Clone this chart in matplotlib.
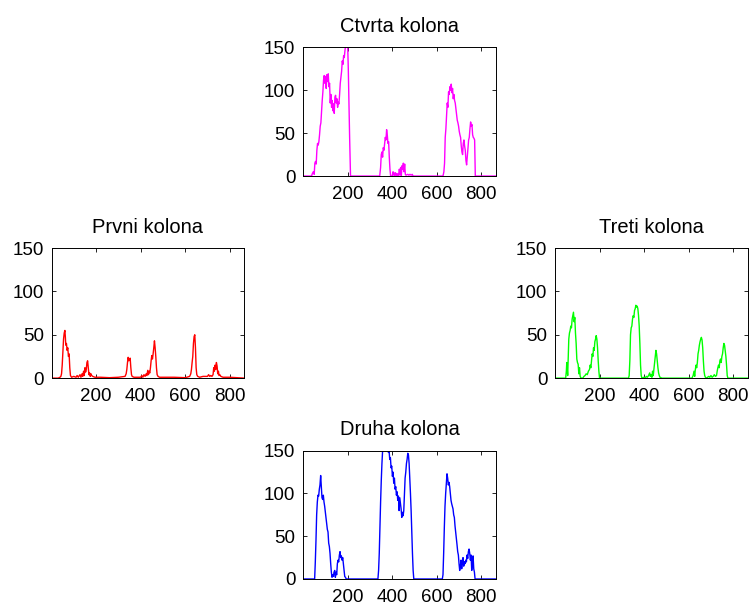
import matplotlib
matplotlib.use("Agg")
import matplotlib.pyplot as plt

plt.rcParams["font.family"] = ["Liberation Sans", "DejaVu Sans"]

X_MAX = 866
X_TICKS = [200, 400, 600, 800]
Y_TICKS = [0, 50, 100, 150]

# Ctvrta kolona (magenta)
ctvrta_x = [0, 38, 42, 46, 50, 53, 56, 59, 62, 65, 68, 71, 74, 77, 80, 83, 86, 89, 92, 95,
            98, 101, 104, 107, 110, 113, 116, 119, 122, 125, 128, 131, 134, 137, 140, 143,
            146, 149, 152, 155, 158, 161, 164, 167, 170, 173, 176, 179, 182, 185, 188, 191,
            194, 197, 200, 203, 206, 209, 213,
            344, 348, 351, 354, 357, 360, 363, 366, 369, 372, 375, 378, 381, 384, 387, 390,
            393, 400, 404, 407, 410, 413, 416, 419, 422, 426, 429, 432, 435, 438, 441, 444,
            447, 450, 453, 456, 459, 462, 470, 475, 480, 485, 490, 494,
            628, 632, 635, 638, 641, 644, 647, 650, 653, 656, 659, 662, 665, 668, 671, 674,
            677, 680, 683, 686, 689, 692, 695, 698, 701, 704, 707, 710, 713, 716, 719, 722,
            725, 728, 731, 734, 737, 740, 743, 746, 749, 752, 755, 758, 761, 764, 767, 770,
            773, 866]
ctvrta_y = [0, 0, 3, 5, 2, 15, 17, 14, 30, 38, 36, 40, 48, 58, 62, 75, 88, 98, 112, 117,
            108, 116, 102, 118, 110, 119, 104, 108, 85, 95, 80, 88, 76, 84, 73, 92,
            94, 85, 90, 80, 86, 84, 95, 108, 115, 122, 134, 130, 140, 138, 146, 152,
            155, 152, 155, 125, 85, 45, 0,
            0, 10, 25, 28, 22, 33, 30, 38, 45, 42, 54, 48, 38, 40, 22, 8,
            0, 0, 5, 2, 0, 4, 1, 3, 0, 3, 0, 8, 2, 10, 0, 12,
            8, 15, 5, 14, 2, 1, 2, 1, 2, 1, 2, 0,
            0, 5, 15, 45, 55, 70, 85, 80, 98, 95, 104, 100, 107, 97, 102, 90,
            95, 88, 85, 78, 72, 65, 62, 58, 52, 48, 45, 35, 28, 25, 38, 42,
            35, 30, 18, 13, 22, 32, 42, 45, 55, 63, 58, 60, 48, 45, 44, 42,
            0, 0]

# Prvni kolona (red)
prvni_x = [0, 30, 38, 42, 45, 48, 51, 54, 57, 60, 62, 64, 67, 70, 73, 76, 79, 82, 85, 90,
           100, 110, 115, 120, 128, 132, 137, 140, 144, 147, 150, 153, 156, 159, 162, 165,
           168, 171, 174, 177, 180, 185, 195, 220, 260, 300,
           330, 335, 338, 341, 344, 347, 350, 353, 356, 359, 362, 370, 400, 405, 410, 415,
           420, 425, 428, 432, 435, 438, 441, 444, 447, 450, 453, 456, 459, 462, 465, 468,
           471, 474, 478, 485, 550, 600,
           620, 625, 628, 631, 634, 637, 640, 643, 646, 649, 652, 656, 665, 680, 700, 705,
           710, 715, 720, 725, 728, 731, 734, 737, 740, 743, 746, 749, 752, 755, 760, 770,
           800, 866]
prvni_y = [0, 0, 1, 2, 5, 15, 30, 45, 52, 55, 48, 38, 40, 32, 35, 25, 28, 12, 3, 1,
           2, 1, 3, 1, 4, 1, 5, 2, 8, 3, 12, 7, 10, 18, 20, 12,
           4, 6, 2, 5, 3, 2, 1, 1, 0.5, 1,
           2, 5, 10, 18, 24, 20, 22, 23, 12, 4, 2, 1, 1, 3, 1, 4,
           2, 5, 3, 9, 4, 8, 6, 12, 20, 26, 22, 28, 35, 43, 35, 25,
           12, 4, 2, 1, 1, 0.5,
           2, 5, 10, 18, 25, 40, 48, 50, 35, 12, 4, 2, 1, 2, 2, 4,
           2, 3, 2, 4, 12, 8, 15, 10, 18, 14, 5, 8, 3, 4, 2, 1,
           1, 0]

# Treti kolona (green)
treti_x = [0, 48, 51, 53, 55, 57, 59, 62, 65, 68, 71, 74, 77, 80, 83, 86, 89, 92, 95, 98,
           101, 104, 107, 110, 113, 117, 125, 130, 135, 140, 145, 150, 155, 158, 161, 164,
           167, 170, 173, 176, 179, 182, 185, 188, 191, 194, 197, 200,
           330, 333, 336, 339, 342, 345, 348, 351, 354, 357, 360, 363, 366, 369, 372, 375,
           378, 381, 384, 387, 390, 400, 405, 410, 415, 420, 425, 428, 432, 435, 438, 441,
           444, 447, 450, 453, 456, 459, 462, 465, 468, 471, 480,
           615, 620, 624, 627, 630, 633, 636, 639, 642, 645, 648, 651, 654, 657, 660, 663,
           666, 669, 672, 675, 680, 690, 695, 700, 705, 710, 715, 720, 725, 728, 731, 734,
           737, 740, 743, 746, 749, 752, 755, 758, 761, 764, 767, 770, 773, 776, 866]
treti_y = [0, 0, 8, 18, 10, 3, 20, 45, 52, 55, 60, 58, 68, 72, 76, 65, 70, 52, 40, 22,
           18, 16, 5, 12, 2, 0, 0, 2, 3, 5, 4, 8, 10, 15, 12, 20,
           28, 25, 35, 32, 42, 45, 49, 45, 35, 20, 8, 0,
           0, 3, 20, 50, 58, 60, 68, 72, 70, 78, 80, 84, 82, 83, 80, 72,
           60, 40, 15, 3, 0, 1, 0, 2, 1, 3, 6, 2, 4, 1, 8, 3,
           10, 18, 25, 32, 28, 20, 12, 6, 3, 1, 0,
           0, 3, 8, 2, 10, 15, 12, 18, 28, 32, 38, 42, 45, 47, 44, 35,
           20, 8, 3, 1, 0, 2, 1, 3, 1, 2, 4, 2, 3, 8, 12, 15,
           12, 20, 22, 18, 25, 28, 35, 40, 38, 32, 25, 15, 3, 0, 0]

# Druha kolona (blue)
druha_x = [0, 52, 55, 58, 61, 64, 67, 70, 73, 76, 79, 82, 85, 88, 91, 94, 97, 100, 103, 106,
           109, 112, 115, 118, 121, 124, 127, 130, 133, 136, 139, 142, 145, 148, 151, 154,
           157, 160, 163, 166, 169, 172, 175, 178, 181, 184, 187, 190, 194,
           336, 339, 342, 345, 348, 351, 354, 357, 360, 380, 383, 386, 389, 392, 395, 398,
           401, 404, 407, 410, 413, 416, 419, 422, 425, 428, 431, 434, 437, 440, 443, 446,
           449, 452, 455, 458, 461, 464, 467, 470, 473, 476, 479, 482, 485, 488, 491, 494,
           497,
           625, 628, 631, 634, 637, 640, 643, 646, 649, 652, 655, 658, 661, 664, 667, 670,
           673, 676, 679, 682, 685, 688, 691, 694, 697, 700, 703, 706, 709, 712, 715, 718,
           721, 724, 727, 730, 733, 736, 739, 742, 745, 748, 751, 754, 757, 760, 763, 766,
           769, 772, 866]
druha_y = [0, 0, 20, 45, 75, 90, 98, 97, 105, 110, 121, 108, 95, 93, 98, 90, 85, 78, 72, 65,
           58, 55, 42, 38, 30, 18, 8, 2, 5, 3, 8, 10, 2, 8, 5, 18,
           22, 20, 28, 32, 25, 27, 22, 25, 18, 10, 3, 2, 0,
           0, 10, 30, 60, 90, 115, 135, 150, 158, 158, 148, 150, 140, 142, 130, 132,
           120, 125, 112, 118, 105, 108, 98, 102, 92, 97, 80, 95, 88, 82, 72, 78,
           74, 80, 100, 118, 125, 135, 140, 147, 145, 135, 118, 100, 80, 55, 30, 10,
           0,
           0, 5, 30, 60, 85, 100, 112, 123, 118, 110, 113, 108, 100, 92, 88, 85,
           82, 75, 72, 62, 55, 48, 40, 32, 28, 18, 10, 15, 22, 12, 20, 25,
           15, 20, 18, 22, 20, 28, 24, 32, 35, 30, 22, 28, 10, 20, 27, 12,
           8, 0, 0]

# (title, x, y, colour, [left, bottom, width, height])
panels = [
    ("Ctvrta kolona", ctvrta_x, ctvrta_y, "#ff00ff", [0.403, 0.709, 0.2566, 0.213]),
    ("Prvni kolona", prvni_x, prvni_y, "#ff0000", [0.0685, 0.375, 0.2566, 0.215]),
    ("Treti kolona", treti_x, treti_y, "#00ff00", [0.738, 0.375, 0.2566, 0.215]),
    ("Druha kolona", druha_x, druha_y, "#0000ff", [0.403, 0.043, 0.2566, 0.212]),
]

fig = plt.figure(figsize=(7.52, 6.05), dpi=100)

for title, xs, ys, color, rect in panels:
    ax = fig.add_axes(rect)
    ax.plot(xs, ys, color=color, linewidth=1.0)
    ax.set_xlim(0, X_MAX)
    ax.set_ylim(0, 150)
    ax.set_xticks(X_TICKS)
    ax.set_yticks(Y_TICKS)
    ax.tick_params(direction="in", length=3, width=0.6, top=True, right=True,
                   labelsize=13.5, pad=5.5)
    ax.tick_params(axis="x", pad=7)
    for spine in ax.spines.values():
        spine.set_linewidth(0.7)
    ax.set_title(title, fontsize=14.5, pad=11)

fig.savefig("out.png", dpi=100)
